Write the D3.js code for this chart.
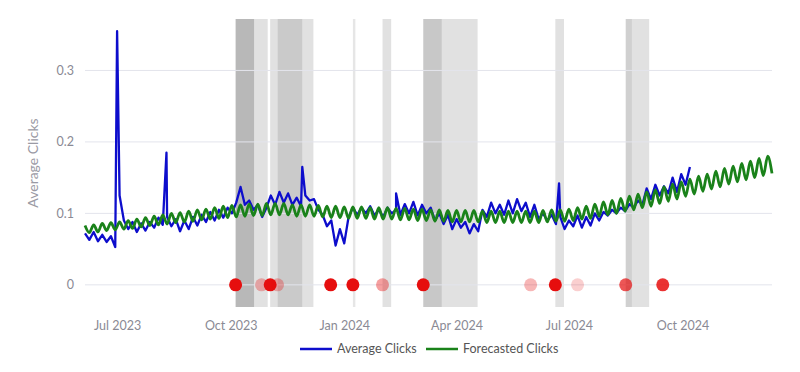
<!DOCTYPE html>
<html>
<head>
<meta charset="utf-8">
<script src="https://cdn.jsdelivr.net/npm/d3@7"></script>
<style>
body{margin:0;background:#fff}
text{font-family:Lato,"Open Sans",sans-serif}
</style>
</head>
<body>
<svg id="chart" width="800" height="372"></svg>
<script>
// series start, one value every half week
const startDate = "2023-06-05"

const yTicks = [0, 0.1, 0.2, 0.3]
const yTickLabels = ["0", "0.1", "0.2", "0.3"]
const xTickDates = ["2023-07-01", "2023-10-01", "2024-01-01", "2024-04-01", "2024-07-01", "2024-10-01"]
const xTickLabels = ["Jul 2023", "Oct 2023", "Jan 2024", "Apr 2024", "Jul 2024", "Oct 2024"]

const avgClicks = [
  .072, .063, .074, .061, .070, .060, .068, .053,
  .125,
  .090, .078, .088, .074, .086, .076, .088, .080,
  .094, .084, .095, .082, .092, .075, .090, .078, .095, .083, .098, .088, .102, .090, .105, .094, .108,
  .100, .115, .137, .112, .118, .105, .112, .095, .108, .125, .112, .130, .115, .128, .112, .122, .110,
  .125, .118, .120, .105, .098, .082, .090, .055, .078, .058, .095, .108, .098,
  .108, .100, .110, .097, .105, .095, .108, .100, .105, .098, .113, .100, .116, .097, .112, .100, .108,
  .090, .100, .085, .098, .078, .092, .080, .088, .072, .085, .075,
  .105, .095, .115, .100, .112, .098, .118, .100, .120, .103, .115, .095, .112, .092, .100, .090, .098, .085, .095,
  .078, .090, .082, .097, .080, .095, .083, .100, .090, .102, .097, .105, .100, .108, .103, .113, .108, .118, .112,
  .135, .120, .140, .125, .138, .128, .150, .130, .155, .140, .165
]
// single-day spikes in the average series
const spikeDates = ["2023-07-01", "2023-08-10", "2023-11-28", "2024-02-12", "2024-06-23"]
const spikeClicks = [.355, .185, .165, .128, .142]

const forecastClicks = [
  .083, .073, .084, .074, .086, .076, .087, .077, .088, .078,
  .090, .079, .092, .081, .094, .083, .096, .084, .098, .085,
  .100, .087, .101, .088, .103, .089, .105, .091, .106, .092,
  .108, .093, .110, .094, .111, .095, .112, .096, .113, .097,
  .113, .097, .114, .098, .114, .098, .114, .098, .112, .096,
  .112, .096, .112, .096, .111, .095, .110, .094, .110, .094,
  .109, .093, .109, .093, .109, .093, .108, .092, .108, .092,
  .108, .092, .107, .091, .107, .091, .106, .090, .106, .090,
  .105, .089, .105, .089, .104, .088, .104, .088, .104, .088,
  .104, .088, .103, .087, .103, .087, .103, .087, .103, .087,
  .103, .087, .103, .087, .103, .087, .104, .088, .105, .089,
  .105, .089, .106, .090, .108, .092, .110, .093, .113, .096,
  .116, .098, .118, .100, .121, .103, .124, .105, .127, .108,
  .130, .110, .133, .114, .137, .117, .141, .120, .144, .124,
  .148, .127, .152, .131, .155, .134, .159, .137, .163, .141,
  .166, .144, .170, .147, .173, .150, .177, .153, .180, .156
]

// shaded periods and their intensity
const shadeStart = ["2023-10-05", "2023-10-20", "2023-11-02", "2023-11-08", "2023-11-28", "2024-01-08", "2024-02-01", "2024-03-05", "2024-03-20", "2024-06-20", "2024-08-16", "2024-08-21"]
const shadeEnd   = ["2023-10-20", "2023-10-31", "2023-11-08", "2023-11-28", "2023-12-07", "2024-01-10", "2024-02-08", "2024-03-20", "2024-04-18", "2024-06-27", "2024-08-21", "2024-09-04"]
const shadeLevel = [.56, .24, .24, .42, .24, .2, .24, .43, .24, .24, .37, .24]

// event markers on the zero line
const eventDates  = ["2023-10-05", "2023-10-26", "2023-11-02", "2023-11-08", "2023-12-21", "2024-01-08", "2024-02-01", "2024-03-05", "2024-05-31", "2024-06-20", "2024-07-08", "2024-08-16", "2024-09-15"]
const eventWeight = [1, .3, 1, .3, 1, 1, .4, 1, .3, 1, .2, .7, .85]

let parse = d3.timeParse("%Y-%m-%d")
let t0 = parse(startDate)
let stepDate = i => d3.timeHour.offset(t0, i * 84)

let forecast = forecastClicks.map((v, i) => ({date: stepDate(i), value: v}))
let average = avgClicks.map((v, i) => ({date: stepDate(i), value: v}))
    .concat(spikeDates.map((d, i) => ({date: parse(d), value: spikeClicks[i]})))
    .sort((a, b) => a.date - b.date)

let plotLeft = 85, plotRight = 772, plotTop = 19, plotBottom = 307

let xScale = d3.scaleTime().domain([t0, forecast[forecast.length - 1].date]).range([plotLeft, plotRight])
let yScale = d3.scaleLinear().domain([-0.031, 0.372]).range([plotBottom, plotTop])

let svg = d3.select("#chart")

// shaded periods
svg.append("g").selectAll("rect")
    .data(shadeStart)
    .enter()
    .append("rect")
    .attr("x", d => xScale(parse(d)))
    .attr("width", (d, i) => xScale(parse(shadeEnd[i])) - xScale(parse(d)))
    .attr("y", plotTop)
    .attr("height", plotBottom - plotTop)
    .attr("fill", "#808080")
    .attr("opacity", (d, i) => shadeLevel[i])

// horizontal grid
svg.append("g").selectAll("line")
    .data(yTicks)
    .enter()
    .append("line")
    .attr("x1", plotLeft).attr("x2", plotRight)
    .attr("y1", d => yScale(d)).attr("y2", d => yScale(d))
    .attr("stroke", "#e3e4ec")
    .attr("stroke-width", 1)

// axes
let y_axis = d3.axisLeft(yScale).tickValues(yTicks)
    .tickFormat((d, i) => yTickLabels[i]).tickSize(0).tickPadding(11)
svg.append("g").attr("transform", `translate(${plotLeft},0)`).call(y_axis)
    .call(g => g.select(".domain").remove())
    .selectAll("text").attr("fill", "#8a8a94").style("font-size", "12.5px")

let x_axis = d3.axisBottom(xScale).tickValues(xTickDates.map(parse))
    .tickFormat((d, i) => xTickLabels[i]).tickSize(0).tickPadding(14)
svg.append("g").attr("transform", `translate(0,${plotBottom})`).call(x_axis)
    .call(g => g.select(".domain").remove())
    .selectAll("text").attr("fill", "#8a8a94").style("font-size", "12.5px")

// y label
svg.append("text")
    .attr("transform", `translate(33,${(plotTop + plotBottom) / 2}) rotate(-90)`)
    .attr("dy", "0.35em")
    .attr("text-anchor", "middle")
    .attr("fill", "#9a9aa4")
    .style("font-size", "14px")
    .text("Average Clicks")

// lines
let line = d3.line().x(d => xScale(d.date)).y(d => yScale(d.value))

svg.append("path")
    .datum(average)
    .attr("d", line)
    .attr("fill", "none")
    .attr("stroke", "#0d0dcc")
    .attr("stroke-width", 2.3)
    .attr("stroke-linejoin", "round")

svg.append("path")
    .datum(forecast)
    .attr("d", line.curve(d3.curveMonotoneX))
    .attr("fill", "none")
    .attr("stroke", "#1a821a")
    .attr("stroke-width", 2.8)

// event markers
svg.append("g").selectAll("circle")
    .data(eventDates)
    .enter()
    .append("circle")
    .attr("cx", d => xScale(parse(d)))
    .attr("cy", yScale(0))
    .attr("r", 6.5)
    .attr("fill", "#e60e0e")
    .attr("opacity", (d, i) => eventWeight[i])

// legend
let legend = [["Average Clicks", "#0d0dcc", 300], ["Forecasted Clicks", "#1a821a", 426]]
legend.forEach(function (d) {
    let lg = svg.append("g").attr("transform", `translate(${d[2]},349)`)
    lg.append("line").attr("x1", 0).attr("x2", 32)
        .attr("stroke", d[1]).attr("stroke-width", 2.5)
    lg.append("text").attr("x", 37).attr("dy", "0.35em")
        .attr("fill", "#555").style("font-size", "12.5px")
        .text(d[0])
})
</script>
</body>
</html>
